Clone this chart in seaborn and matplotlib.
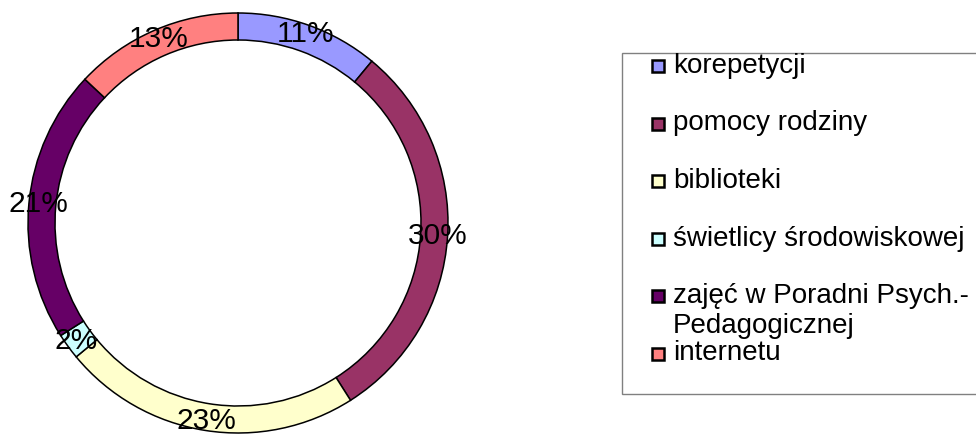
import matplotlib
matplotlib.use("Agg")
import matplotlib.pyplot as plt
from matplotlib.patches import Rectangle
import seaborn as sns

# data
categories = ["korepetycji", "pomocy rodziny", "biblioteki", "świetlicy środowiskowej",
              "zajęć w Poradni Psych.-\nPedagogicznej", "internetu"]
shares = [11, 30, 23, 2, 21, 13]
colors = ["#9999FF", "#993366", "#FFFFCC", "#CCFFFF", "#660066", "#FF8080"]

sns.set_style("white")
plt.rcParams["font.family"] = ["Liberation Sans", "DejaVu Sans"]
plt.rcParams["text.color"] = "black"

fig = plt.figure(figsize=(9.76, 4.34), dpi=100)

# ring chart, axes in pixel units
ax = fig.add_axes([0, 0, 1, 1])
wedges, texts, autotexts = ax.pie(
    shares, colors=colors, startangle=90, counterclock=False,
    center=(238, 211), radius=210,
    wedgeprops=dict(width=27, edgecolor="black", linewidth=1.1),
    autopct=lambda p: f"{p:.0f}%", pctdistance=0.955,
    textprops=dict(fontsize=21.5, color="black"))
ax.set_xlim(0, 976)
ax.set_ylim(0, 434)
ax.set_aspect("equal")
ax.axis("off")

# legend drawn by hand (the long label overlaps the next one, like the original)
lax = fig.add_axes([0, 0, 1, 1])
lax.set_xlim(0, 976)
lax.set_ylim(434, 0)
lax.axis("off")
lax.patch.set_alpha(0)
lax.add_patch(Rectangle((622, 53), 400, 341, facecolor="white",
                        edgecolor="#808080", linewidth=1.0, clip_on=False))
for i, (lab, col) in enumerate(zip(categories, colors)):
    base = 73 + i * 57.5
    lax.add_patch(Rectangle((652, base - 13), 12, 12, facecolor=col,
                            edgecolor="black", linewidth=1.8))
    lines = lab.split("\n")
    for j, line in enumerate(lines):
        lax.text(673, base + j * 30, line, fontsize=20, color="black",
                 va="baseline", ha="left")

fig.savefig("out.png", dpi=100)
